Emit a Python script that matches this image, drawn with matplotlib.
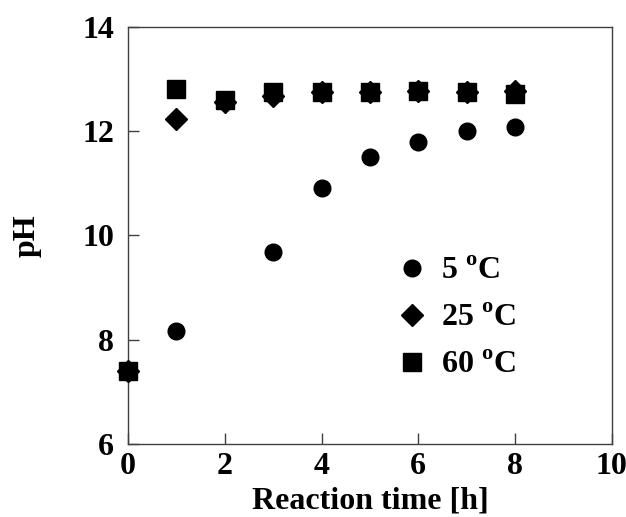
import matplotlib.pyplot as plt

plt.rcParams['font.family'] = 'Liberation Serif'
plt.rcParams['font.weight'] = 'bold'
plt.rcParams['mathtext.fontset'] = 'custom'
plt.rcParams['mathtext.rm'] = 'Liberation Serif:bold'
plt.rcParams['mathtext.bf'] = 'Liberation Serif:bold'

# pH vs reaction time at three temperatures
t_5 = [0, 1, 3, 4, 5, 6, 7, 8]
ph_5 = [7.38, 8.17, 9.68, 10.91, 11.50, 11.80, 12.00, 12.08]

t_25 = [0, 1, 2, 3, 4, 5, 6, 7, 8]
ph_25 = [7.40, 12.23, 12.57, 12.68, 12.75, 12.76, 12.77, 12.76, 12.78]

t_60 = [0, 1, 2, 3, 4, 5, 6, 7, 8]
ph_60 = [7.40, 12.81, 12.60, 12.76, 12.76, 12.76, 12.77, 12.76, 12.71]

fig = plt.figure(figsize=(6.26, 5.17), dpi=100)
ax = fig.add_axes([0.2045, 0.1412, 0.773, 0.8066])

ax.plot(t_5, ph_5, 'o', color='black', markersize=12, label='5 $^{\\mathrm{o}}$C', clip_on=False, zorder=3)
ax.plot(t_25, ph_25, 'D', color='black', markersize=11.5, label='25 $^{\\mathrm{o}}$C', clip_on=False, zorder=3)
ax.plot(t_60, ph_60, 's', color='black', markersize=12.5, label='60 $^{\\mathrm{o}}$C', clip_on=False, zorder=3)

ax.set_xlim(0, 10)
ax.set_ylim(6, 14)
ax.set_xticks([0, 2, 4, 6, 8, 10])
ax.set_yticks([6, 8, 10, 12, 14])
ax.tick_params(direction='in', length=8, width=1, colors='#404040', labelcolor='black',
               labelsize=23, top=False, right=False)
ax.tick_params(axis='y', pad=10)
ax.tick_params(axis='x', pad=6)
for sp in ax.spines.values():
    sp.set_color('#404040')
    sp.set_linewidth(1)

ax.set_xlabel('Reaction time [h]', fontsize=23, fontweight='bold', labelpad=4)
ax.set_ylabel('pH', fontsize=23, fontweight='bold', labelpad=29)

ax.legend(loc='upper left', bbox_to_anchor=(0.527, 0.48), frameon=False, fontsize=23,
          handlelength=1, handletextpad=0.4, labelspacing=0.55, borderaxespad=0)

fig.savefig('out.png', dpi=100)
